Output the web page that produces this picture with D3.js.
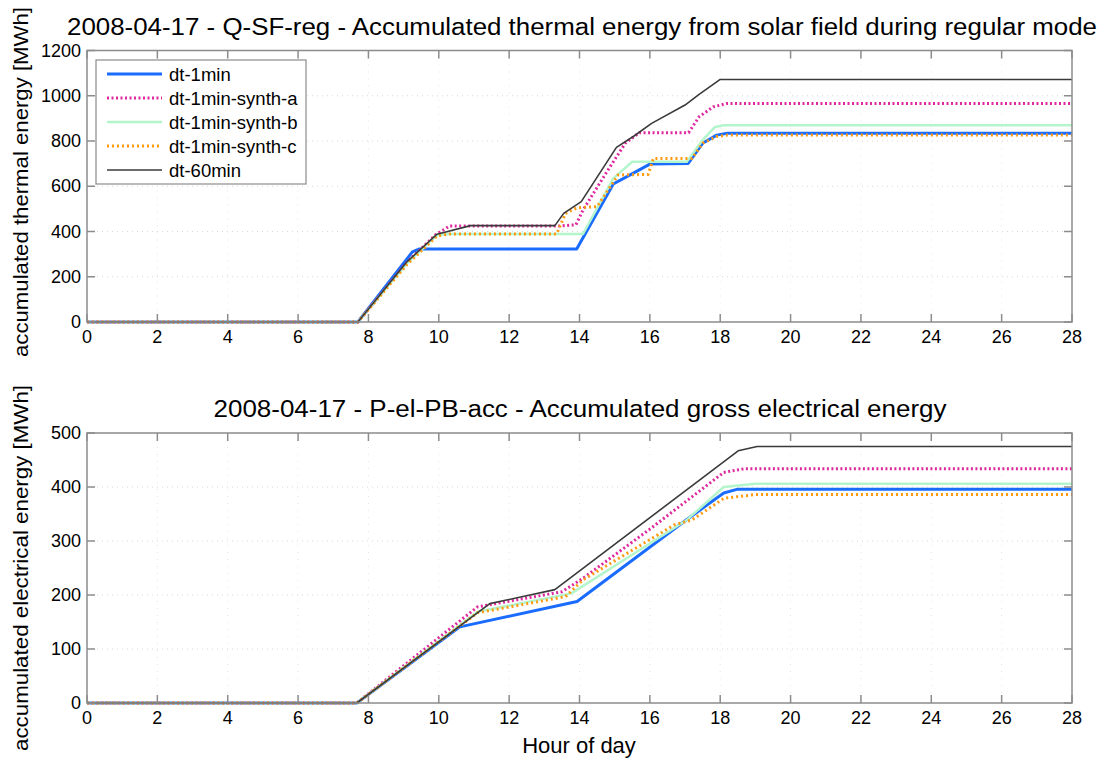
<!DOCTYPE html>
<html>
<head>
<meta charset="utf-8">
<script src="https://cdn.jsdelivr.net/npm/d3@7"></script>
<style>
  body { margin: 0; background: #fff; }
  svg { font-family: "Liberation Sans", Arial, sans-serif; }
</style>
</head>
<body>
<svg id="chart" width="1109" height="758"></svg>
<script>
// hour ticks shared by both panels
const hourTicks = [0, 2, 4, 6, 8, 10, 12, 14, 16, 18, 20, 22, 24, 26, 28];
const thermalTicks = [0, 200, 400, 600, 800, 1000, 1200];
const electricTicks = [0, 100, 200, 300, 400, 500];

const seriesNames = ['dt-1min', 'dt-1min-synth-a', 'dt-1min-synth-b', 'dt-1min-synth-c', 'dt-60min'];

// thermal energy, [hour, MWh]
const thermal1min = [[0,0],[7.7,0],[9.25,310],[9.45,323],[13.92,323],[14.96,610],[15.44,650],[16.0,698],[17.09,701],[17.5,790],[17.9,826],[18.2,834],[28,834]];
const thermalSynthA = [[0,0],[7.7,0],[9.1,265],[9.9,384],[10.3,424],[13.4,424],[13.9,430],[14.1,495],[14.75,657],[15.3,790],[15.7,837],[17.1,837],[17.4,907],[17.8,951],[18.2,966],[28,966]];
const thermalSynthB = [[0,0],[7.7,0],[9.1,260],[9.95,384],[10.3,389],[14.1,389],[14.96,635],[15.5,708],[17.05,708],[17.5,804],[17.85,862],[18.1,870],[28,870]];
const thermalSynthC = [[0,0],[7.7,0],[9.1,255],[9.95,380],[10.3,389],[13.35,389],[13.6,480],[13.93,505],[14.5,510],[15.1,650],[15.95,652],[16.1,723],[17.2,723],[17.5,790],[17.9,820],[18.2,826],[28,826]];
const thermal60min = [[0,0],[7.7,0],[9.1,267],[9.95,388],[10.9,426],[13.3,426],[13.55,480],[14.05,532],[15.05,772],[15.55,822],[16.05,878],[17.0,959],[17.4,1006],[18.0,1072],[28,1072]];

// electrical energy, [hour, MWh]
const elec1min = [[0,0],[7.67,0],[10.6,141],[13.93,188],[17.1,342],[18.1,389],[18.5,396],[28,396]];
const elecSynthA = [[0,0],[7.67,0],[11.1,178],[13.5,206],[14.1,231],[16.0,322],[18.1,427],[18.7,434],[28,434]];
const elecSynthB = [[0,0],[7.67,0],[11.1,169],[13.77,203],[17.05,339],[18.1,400],[19.0,406],[28,406]];
const elecSynthC = [[0,0],[7.67,0],[11.1,167],[13.6,197],[14.1,228],[16.7,330],[17.2,339],[18.1,379],[19.0,386],[28,386]];
const elec60min = [[0,0],[7.67,0],[11.45,184],[13.3,210],[18.51,467],[19.05,475],[28,475]];

const styles = [
  { color: '#1a6cff', width: 3, dash: null },
  { color: '#e0289e', width: 3, dash: '2,2.5' },
  { color: '#b4f5cc', width: 2.5, dash: null },
  { color: '#ff9a10', width: 3, dash: '2,3' },
  { color: '#3a3a3a', width: 1.6, dash: null }
];

const svg = d3.select('#chart');
const left = 87, right = 1072;

function drawPanel(opts) {
  const x = d3.scaleLinear().domain([0, 28]).range([left, right]);
  const y = d3.scaleLinear().domain(opts.yDomain).range([opts.bottom, opts.top]);
  const g = svg.append('g');

  // dotted grid
  g.selectAll('.hg').data(opts.yTicks.slice(1, -1)).enter().append('line')
    .attr('x1', left).attr('x2', right)
    .attr('y1', d => y(d)).attr('y2', d => y(d))
    .attr('stroke', '#d8d8d8').attr('stroke-dasharray', '1,4');
  g.selectAll('.vg').data(hourTicks.slice(1, -1)).enter().append('line')
    .attr('y1', opts.top).attr('y2', opts.bottom)
    .attr('x1', d => x(d)).attr('x2', d => x(d))
    .attr('stroke', '#e6e6e6').attr('stroke-dasharray', '1,6');

  // series
  const line = d3.line().x(d => x(d[0])).y(d => y(d[1]));
  opts.series.forEach((s, i) => {
    const st = styles[i];
    g.append('path')
      .attr('d', line(s))
      .attr('fill', 'none')
      .attr('stroke', st.color)
      .attr('stroke-width', st.width)
      .attr('stroke-linejoin', 'round')
      .attr('stroke-dasharray', st.dash);
  });

  // box
  g.append('rect')
    .attr('x', left).attr('y', opts.top)
    .attr('width', right - left).attr('height', opts.bottom - opts.top)
    .attr('fill', 'none').attr('stroke', '#8c8c8c').attr('stroke-width', 1.5);

  // ticks inward, all four sides
  const tl = 8;
  hourTicks.forEach(h => {
    g.append('line').attr('x1', x(h)).attr('x2', x(h))
      .attr('y1', opts.bottom).attr('y2', opts.bottom - tl).attr('stroke', '#8c8c8c').attr('stroke-width', 1.5);
    g.append('line').attr('x1', x(h)).attr('x2', x(h))
      .attr('y1', opts.top).attr('y2', opts.top + tl).attr('stroke', '#8c8c8c').attr('stroke-width', 1.5);
  });
  opts.yTicks.forEach(v => {
    g.append('line').attr('x1', left).attr('x2', left + tl)
      .attr('y1', y(v)).attr('y2', y(v)).attr('stroke', '#8c8c8c').attr('stroke-width', 1.5);
    g.append('line').attr('x1', right).attr('x2', right - tl)
      .attr('y1', y(v)).attr('y2', y(v)).attr('stroke', '#8c8c8c').attr('stroke-width', 1.5);
  });

  // tick labels
  g.selectAll('.xl').data(hourTicks).enter().append('text')
    .attr('x', d => x(d)).attr('y', opts.bottom + 21)
    .attr('text-anchor', 'middle').style('font-size', '18px').text(d => d);
  g.selectAll('.yl').data(opts.yTicks).enter().append('text')
    .attr('x', left - 6).attr('y', d => y(d) + 6)
    .attr('text-anchor', 'end').style('font-size', '18px').text(d => d);

  // title + y label
  g.append('text')
    .attr('x', opts.titleX).attr('y', opts.top - 16)
    .attr('text-anchor', 'middle').style('font-size', '23px')
    .attr('textLength', opts.titleLen).attr('lengthAdjust', 'spacingAndGlyphs')
    .text(opts.title);
  g.append('text')
    .attr('transform', `translate(28,${opts.labelY}) rotate(-90)`)
    .attr('text-anchor', 'middle').style('font-size', '21px')
    .attr('textLength', opts.labelLen).attr('lengthAdjust', 'spacingAndGlyphs')
    .text(opts.yLabel);
}

drawPanel({
  top: 50.5, bottom: 322, yDomain: [0, 1200], yTicks: thermalTicks,
  series: [thermal1min, thermalSynthA, thermalSynthB, thermalSynthC, thermal60min],
  title: '2008-04-17 - Q-SF-reg - Accumulated thermal energy from solar field during regular mode',
  titleX: 582, titleLen: 1030,
  yLabel: 'accumulated thermal energy [MWh]', labelY: 182, labelLen: 350
});

drawPanel({
  top: 433, bottom: 703, yDomain: [0, 500], yTicks: electricTicks,
  series: [elec1min, elecSynthA, elecSynthB, elecSynthC, elec60min],
  title: '2008-04-17 - P-el-PB-acc - Accumulated gross electrical energy',
  titleX: 580, titleLen: 733,
  yLabel: 'accumulated electrical energy [MWh]', labelY: 568, labelLen: 366
});

// legend (top panel)
const legend = svg.append('g');
legend.append('rect')
  .attr('x', 96).attr('y', 60).attr('width', 210).attr('height', 124)
  .attr('fill', '#fff').attr('stroke', '#8c8c8c').attr('stroke-width', 1.2);
seriesNames.forEach((name, i) => {
  const ly = 74 + i * 24;
  const st = styles[i];
  legend.append('line')
    .attr('x1', 107).attr('x2', 162).attr('y1', ly).attr('y2', ly)
    .attr('stroke', st.color).attr('stroke-width', st.width)
    .attr('stroke-dasharray', st.dash);
  legend.append('text')
    .attr('x', 169).attr('y', ly + 6.5).style('font-size', '18.5px').text(name);
});

svg.append('text')
  .attr('x', 579).attr('y', 753)
  .attr('text-anchor', 'middle').style('font-size', '22px').text('Hour of day');
</script>
</body>
</html>
